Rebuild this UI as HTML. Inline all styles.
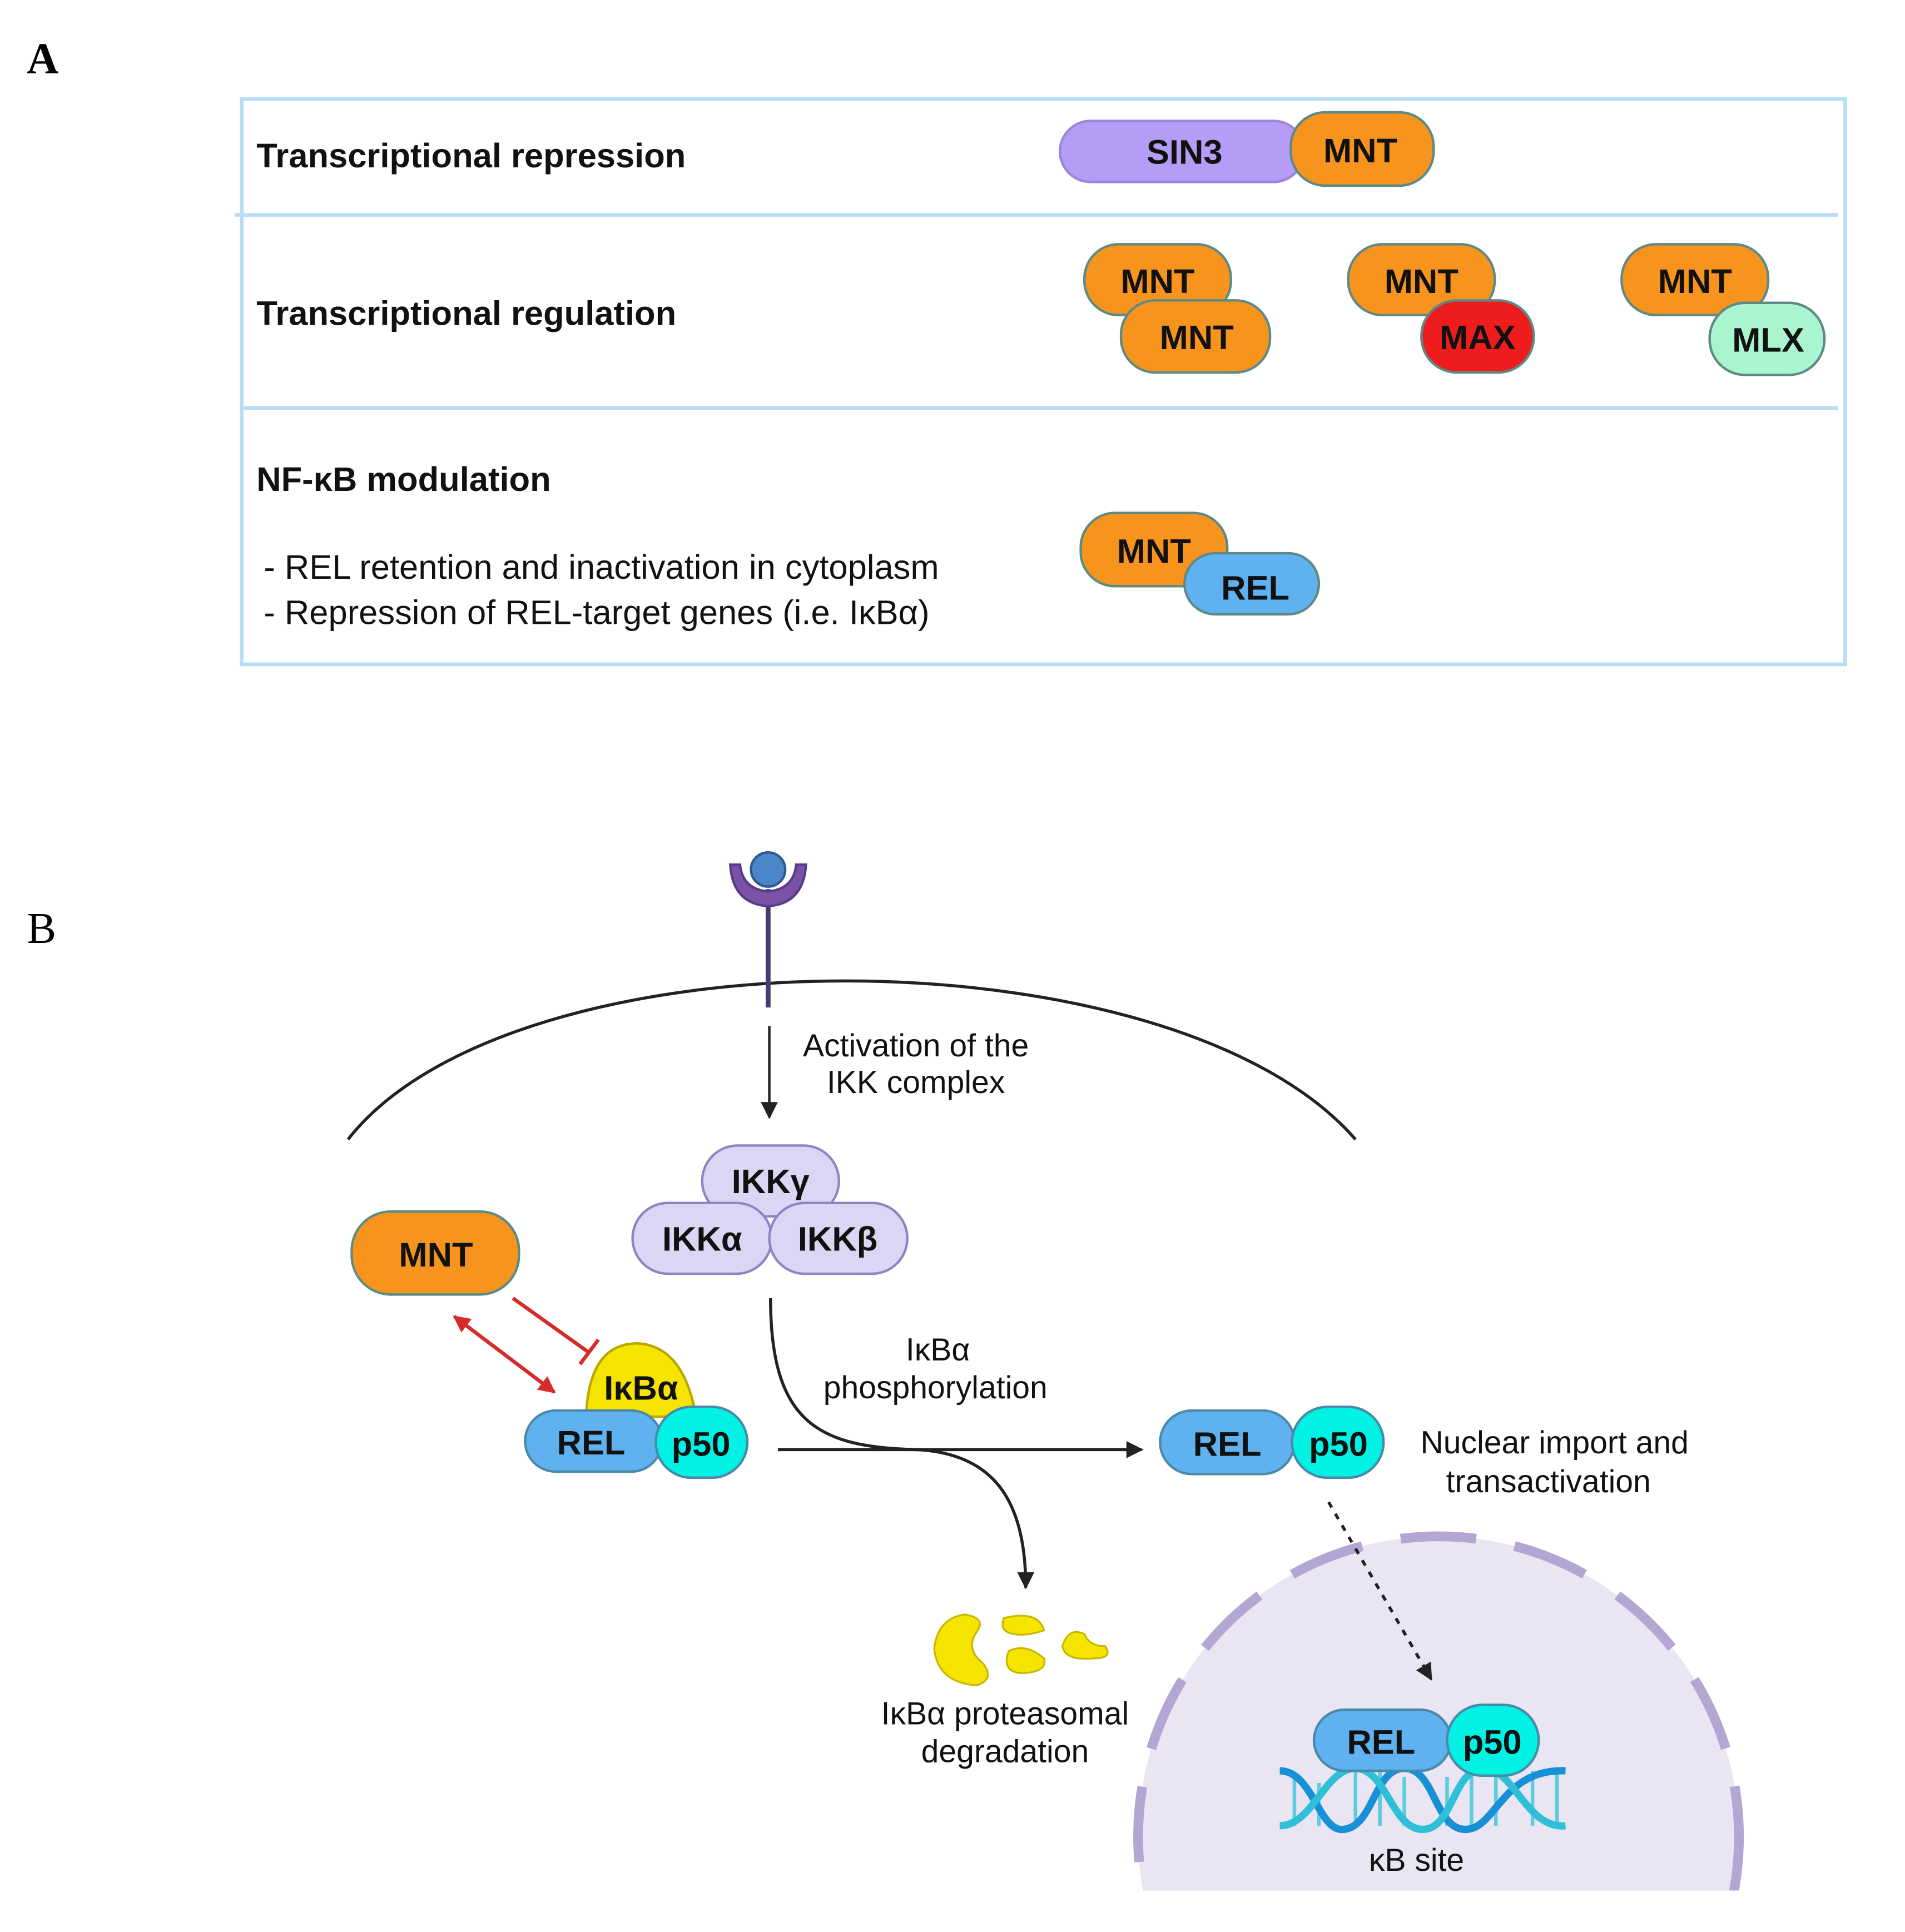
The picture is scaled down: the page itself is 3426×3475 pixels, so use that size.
<!DOCTYPE html>
<html><head><meta charset="utf-8"><style>
html,body{margin:0;padding:0;background:#fff;overflow:hidden;width:3426px;height:3475px;}
svg{display:block;}
text{font-family:"Liberation Sans","DejaVu Sans",sans-serif;}
</style></head><body>
<svg width="3426" height="3475" viewBox="0 0 1560 1582" preserveAspectRatio="none" xmlns="http://www.w3.org/2000/svg">
<defs>
<marker id="ahb" viewBox="0 0 10 10" markerWidth="14" markerHeight="14" refX="9" refY="5" orient="auto" markerUnits="userSpaceOnUse"><path d="M0,0 L10,5 L0,10 z" fill="#222"/></marker>
<marker id="ahr" viewBox="0 0 10 10" markerWidth="14" markerHeight="14" refX="9" refY="5" orient="auto" markerUnits="userSpaceOnUse"><path d="M0,0 L10,5 L0,10 z" fill="#d52b2b"/></marker>
<marker id="ahrs" viewBox="0 0 10 10" markerWidth="14" markerHeight="14" refX="1" refY="5" orient="auto" markerUnits="userSpaceOnUse"><path d="M10,0 L0,5 L10,10 z" fill="#d52b2b"/></marker>
<clipPath id="nc"><rect x="0" y="0" width="1560" height="1548"/></clipPath>
</defs>
<text x="22" y="60" font-size="36" font-weight="bold" style="font-family:'Liberation Serif',serif">A</text>
<text x="22" y="772" font-size="36" style="font-family:'Liberation Serif',serif">B</text>
<!-- Panel A box -->
<rect x="198" y="81" width="1313" height="463" fill="none" stroke="#b7ddf5" stroke-width="3"/>
<line x1="192" y1="176" x2="1505" y2="176" stroke="#b7ddf5" stroke-width="3"/>
<line x1="198" y1="334" x2="1505" y2="334" stroke="#b7ddf5" stroke-width="3"/>
<g font-size="28" font-weight="bold" fill="#111">
<text x="210" y="137">Transcriptional repression</text>
<text x="210" y="266">Transcriptional regulation</text>
<text x="210" y="402">NF-κB modulation</text>
</g>
<g font-size="28" fill="#111">
<text x="216" y="474">- REL retention and inactivation in cytoplasm</text>
<text x="216" y="511">- Repression of REL-target genes (i.e. IκBα)</text>
</g>
<g stroke="#5d8a86" stroke-width="2" font-size="28" font-weight="bold" text-anchor="middle">
<rect x="868" y="99" width="200" height="50" rx="25" fill="#b49cf7" stroke="#9a86d8"/>
<text x="970" y="134" stroke="none" fill="#111">SIN3</text>
<rect x="1057" y="92" width="117" height="60" rx="28" fill="#f7941d"/>
<text x="1114" y="133" stroke="none" fill="#111">MNT</text>

<rect x="888" y="200" width="120" height="58" rx="28" fill="#f7941d"/>
<text x="948" y="240" stroke="none" fill="#111">MNT</text>
<rect x="918" y="246" width="122" height="59" rx="28" fill="#f7941d"/>
<text x="980" y="286" stroke="none" fill="#111">MNT</text>

<rect x="1104" y="200" width="120" height="58" rx="28" fill="#f7941d"/>
<text x="1164" y="240" stroke="none" fill="#111">MNT</text>
<rect x="1164" y="246" width="92" height="59" rx="29" fill="#ee1c1c"/>
<text x="1210" y="286" stroke="none" fill="#111">MAX</text>

<rect x="1328" y="200" width="120" height="58" rx="28" fill="#f7941d"/>
<text x="1388" y="240" stroke="none" fill="#111">MNT</text>
<rect x="1400" y="248" width="94" height="59" rx="29" fill="#a9f5d0"/>
<text x="1448" y="288" stroke="none" fill="#111">MLX</text>

<rect x="885" y="420" width="120" height="60" rx="28" fill="#f7941d"/>
<text x="945" y="461" stroke="none" fill="#111">MNT</text>
<rect x="970" y="453" width="110" height="50" rx="25" fill="#5fb2ef"/>
<text x="1028" y="491" stroke="none" fill="#111">REL</text>
</g>

<!-- nucleus -->
<g clip-path="url(#nc)">
<circle cx="1178" cy="1504" r="246" fill="#e9e5f3" stroke="#b3a6d3" stroke-width="8" stroke-dasharray="62,32"/>
</g>
<!-- membrane -->
<path d="M285 933 C 420 760, 960 760, 1110 933" fill="none" stroke="#222" stroke-width="2.5"/>
<!-- receptor -->
<line x1="629" y1="728" x2="629" y2="825" stroke="#4b3b73" stroke-width="4"/>
<path d="M598 708 Q600 740 629 742 Q658 740 660 708 L652 708 Q650 728 629 730 Q608 728 606 708 Z" fill="#7c52a8" stroke="#5a3c86" stroke-width="2"/>
<circle cx="629" cy="712" r="14" fill="#4b86c8" stroke="#2e5a8e" stroke-width="2"/>
<line x1="630" y1="840" x2="630" y2="915" stroke="#222" stroke-width="2" marker-end="url(#ahb)"/>
<g font-size="26" fill="#111" text-anchor="middle">
<text x="750" y="865">Activation of the</text>
<text x="750" y="895">IKK complex</text>
<text x="768" y="1114">IκBα</text>
<text x="766" y="1145">phosphorylation</text>
<text x="1273" y="1190">Nuclear import and</text>
<text x="1268" y="1222">transactivation</text>
<text x="823" y="1412">IκBα proteasomal</text>
<text x="823" y="1443">degradation</text>
<text x="1160" y="1532">κB site</text>
</g>
<g stroke="#8e84c4" stroke-width="2" fill="#dcd6f4" font-size="28" font-weight="bold" text-anchor="middle">
<rect x="575" y="938" width="112" height="58" rx="29"/>
<text x="631" y="977" stroke="none" fill="#111">IKKγ</text>
<rect x="518" y="985" width="114" height="58" rx="29"/>
<text x="575" y="1024" stroke="none" fill="#111">IKKα</text>
<rect x="630" y="985" width="113" height="58" rx="29"/>
<text x="686" y="1024" stroke="none" fill="#111">IKKβ</text>
</g>
<g stroke="#5d8a86" stroke-width="2" font-size="28" font-weight="bold" text-anchor="middle">
<rect x="288" y="992" width="137" height="68" rx="32" fill="#f7941d"/>
<text x="357" y="1037" stroke="none" fill="#111">MNT</text>
</g>
<line x1="372" y1="1078" x2="454" y2="1140" stroke="#d52b2b" stroke-width="3" marker-start="url(#ahrs)" marker-end="url(#ahr)"/>
<line x1="420" y1="1063" x2="483" y2="1108" stroke="#d52b2b" stroke-width="3"/>
<line x1="475" y1="1117" x2="490" y2="1097" stroke="#d52b2b" stroke-width="3"/>
<path d="M480 1160 Q482 1100 522 1100 Q560 1102 570 1160 Z" fill="#f5e400" stroke="#b8a800" stroke-width="2"/>
<g stroke="#4a8aa8" stroke-width="2" font-size="28" font-weight="bold" text-anchor="middle">
<text x="525" y="1146" stroke="none" fill="#111">IκBα</text>
<rect x="430" y="1155" width="112" height="50" rx="25" fill="#5fb2ef"/>
<text x="484" y="1191" stroke="none" fill="#111">REL</text>
<rect x="537" y="1152" width="75" height="58" rx="29" fill="#00f2e4"/>
<text x="574" y="1192" stroke="none" fill="#111">p50</text>
</g>
<line x1="637" y1="1187" x2="935" y2="1187" stroke="#222" stroke-width="2.5" marker-end="url(#ahb)"/>
<path d="M631 1063 C 631 1165, 670 1185, 750 1187 C 815 1190, 840 1230, 840 1300" fill="none" stroke="#222" stroke-width="2.5" marker-end="url(#ahb)"/>
<g stroke="#4a8aa8" stroke-width="2" font-size="28" font-weight="bold" text-anchor="middle">
<rect x="950" y="1155" width="110" height="52" rx="26" fill="#5fb2ef"/>
<text x="1005" y="1192" stroke="none" fill="#111">REL</text>
<rect x="1058" y="1152" width="75" height="58" rx="29" fill="#00f2e4"/>
<text x="1096" y="1192" stroke="none" fill="#111">p50</text>
</g>
<line x1="1088" y1="1230" x2="1172" y2="1375" stroke="#222" stroke-width="2.5" stroke-dasharray="5,6" marker-end="url(#ahb)"/>
<g fill="#f5e400" stroke="#c8b800" stroke-width="1.5">
<path d="M790 1322 Q768 1325 765 1350 Q768 1378 800 1380 Q815 1375 805 1362 Q790 1350 800 1336 Q808 1325 790 1322 Z"/>
<path d="M822 1325 Q850 1318 855 1335 Q840 1340 830 1338 Q818 1336 822 1325 Z"/>
<path d="M826 1352 Q840 1345 855 1358 Q858 1370 835 1370 Q820 1368 826 1352 Z"/>
<path d="M870 1348 Q875 1332 888 1338 Q892 1348 905 1348 Q912 1358 895 1358 Q872 1360 870 1348 Z"/>
</g>
<g fill="none" stroke-width="6">
<g stroke="#5ccde0" stroke-width="3">
<line x1="1060" y1="1455" x2="1060" y2="1495"/><line x1="1080" y1="1460" x2="1080" y2="1495"/><line x1="1110" y1="1450" x2="1110" y2="1495"/><line x1="1130" y1="1450" x2="1130" y2="1495"/><line x1="1150" y1="1455" x2="1150" y2="1495"/><line x1="1185" y1="1455" x2="1185" y2="1495"/><line x1="1205" y1="1450" x2="1205" y2="1495"/><line x1="1225" y1="1455" x2="1225" y2="1495"/><line x1="1255" y1="1450" x2="1255" y2="1495"/><line x1="1275" y1="1450" x2="1275" y2="1495"/>
</g>
<path d="M1048 1450 C 1075 1450, 1080 1500, 1100 1498 C 1125 1496, 1125 1448, 1150 1448 C 1175 1448, 1175 1498, 1200 1498 C 1225 1498, 1230 1448, 1282 1450" stroke="#1890d5"/>
<path d="M1048 1495 C 1075 1495, 1085 1448, 1110 1448 C 1135 1448, 1140 1498, 1165 1498 C 1190 1498, 1190 1448, 1215 1448 C 1240 1448, 1250 1498, 1282 1495" stroke="#2fc0d8"/>
</g>
<g stroke="#4a8aa8" stroke-width="2" font-size="28" font-weight="bold" text-anchor="middle">
<rect x="1076" y="1400" width="112" height="50" rx="25" fill="#5fb2ef"/>
<text x="1131" y="1436" stroke="none" fill="#111">REL</text>
<rect x="1185" y="1396" width="75" height="58" rx="29" fill="#00f2e4"/>
<text x="1222" y="1436" stroke="none" fill="#111">p50</text>
</g>
</svg>
</body></html>
